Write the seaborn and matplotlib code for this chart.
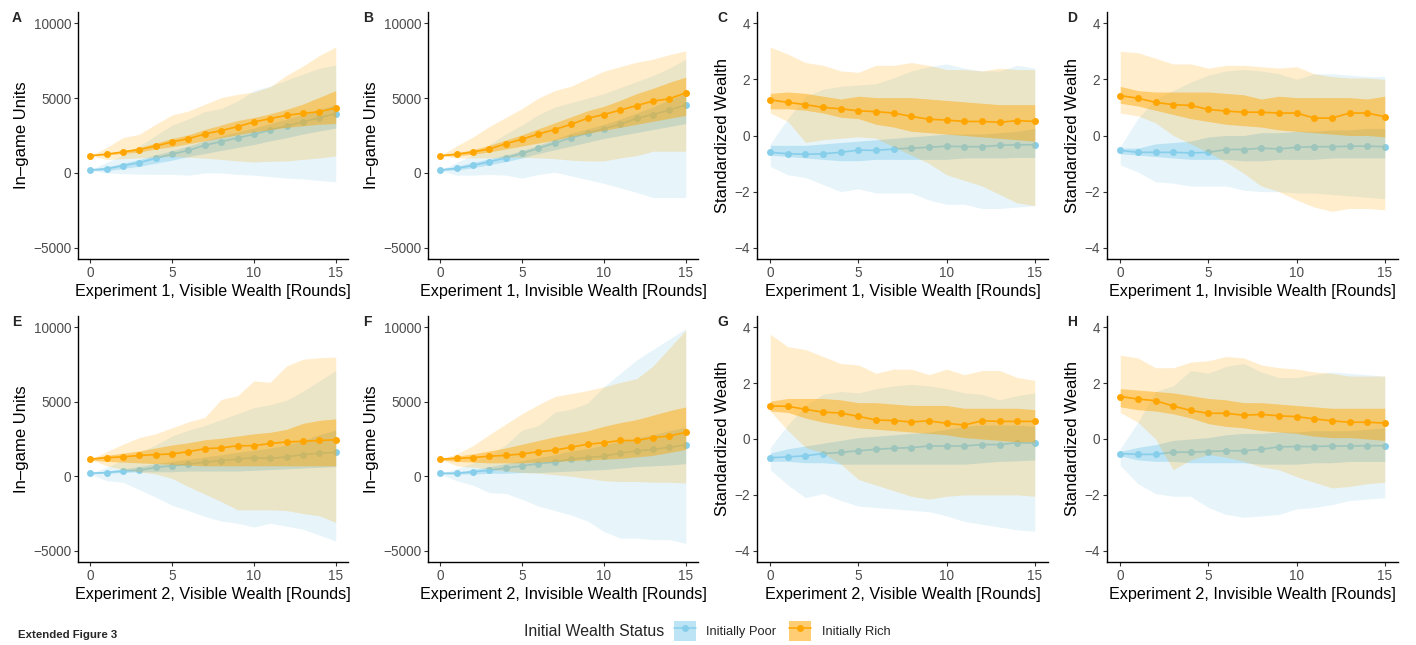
import matplotlib
matplotlib.use("Agg")
import matplotlib.pyplot as plt
import numpy as np
import pandas as pd
import seaborn as sns
from matplotlib.lines import Line2D
from matplotlib.patches import Patch

rounds = list(range(16))

# ---- Panel A: Experiment 1, visible wealth (in-game units)
a_poor_mean = [200, 270, 490, 690, 980, 1250, 1510, 1850, 2090, 2340, 2580, 2870, 3140, 3400, 3690, 3960]
a_poor_q_lo = [150, 150, 300, 450, 650, 850, 1100, 1300, 1500, 1700, 1900, 2150, 2350, 2600, 2800, 3000]
a_poor_q_hi = [250, 400, 650, 900, 1200, 1500, 1800, 2150, 2450, 2750, 3000, 3300, 3600, 3900, 4250, 4550]
a_poor_r_lo = [200, 0, -50, -80, -100, -100, -150, 0, 0, -100, -150, -250, -350, -400, -500, -600]
a_poor_r_hi = [200, 700, 1200, 1800, 2500, 3200, 3600, 4100, 4300, 4800, 5500, 5800, 6200, 6600, 7000, 7200]
a_rich_mean = [1150, 1250, 1400, 1560, 1800, 2070, 2290, 2600, 2830, 3090, 3400, 3630, 3850, 3980, 4090, 4340]
a_rich_q_lo = [1150, 1200, 1300, 1400, 1600, 1750, 1950, 2150, 2350, 2550, 2750, 2900, 3050, 3150, 3250, 3300]
a_rich_q_hi = [1150, 1300, 1500, 1700, 2000, 2300, 2550, 2900, 3200, 3500, 3700, 3950, 4250, 4600, 5050, 5500]
a_rich_r_lo = [1150, 900, 950, 1000, 1050, 1100, 1050, 980, 900, 800, 730, 780, 800, 900, 1000, 1130]
a_rich_r_hi = [1150, 1700, 2360, 2580, 3250, 3870, 4140, 4580, 5030, 5250, 5400, 5760, 6520, 7140, 7850, 8410]

# ---- Panel B: Experiment 1, invisible wealth (in-game units)
b_poor_mean = [200, 300, 500, 750, 1000, 1300, 1650, 2000, 2350, 2650, 2950, 3250, 3650, 3900, 4200, 4550]
b_poor_q_lo = [150, 200, 350, 550, 750, 1000, 1300, 1550, 1800, 2050, 2300, 2500, 2700, 2900, 3100, 3300]
b_poor_q_hi = [250, 450, 700, 950, 1200, 1500, 1850, 2250, 2650, 2950, 3250, 3600, 4000, 4400, 4900, 5300]
b_poor_r_lo = [150, -150, -150, -100, -150, -350, -100, 50, -200, -450, -700, -1000, -1300, -1650, -1650, -1650]
b_poor_r_hi = [200, 700, 1200, 1900, 2600, 3200, 3900, 4400, 4700, 5000, 5300, 5700, 6100, 6500, 7000, 7600]
b_rich_mean = [1150, 1250, 1400, 1600, 1950, 2250, 2600, 2900, 3250, 3650, 3900, 4200, 4500, 4800, 4950, 5350]
b_rich_q_lo = [1150, 1150, 1250, 1400, 1600, 1800, 2000, 2200, 2450, 2650, 2850, 3050, 3250, 3450, 3650, 3850]
b_rich_q_hi = [1150, 1350, 1550, 1850, 2200, 2550, 2950, 3350, 3750, 4150, 4450, 4850, 5300, 5650, 6050, 6400]
b_rich_r_lo = [1150, 1000, 1000, 1000, 1050, 1050, 1000, 950, 850, 800, 800, 1000, 1150, 1450, 1450, 1450]
b_rich_r_hi = [1150, 1800, 2400, 3100, 3700, 4300, 5000, 5500, 5800, 6300, 6800, 7100, 7400, 7600, 7900, 8150]

# ---- Panel C: Experiment 1, visible wealth (standardized)
c_poor_mean = [-0.60, -0.65, -0.67, -0.65, -0.60, -0.52, -0.53, -0.48, -0.45, -0.42, -0.38, -0.40, -0.40, -0.35, -0.33, -0.33]
c_poor_q_lo = [-0.70, -0.75, -0.80, -0.85, -0.90, -0.90, -0.85, -0.85, -0.85, -0.85, -0.85, -0.80, -0.80, -0.80, -0.78, -0.78]
c_poor_q_hi = [-0.35, -0.35, -0.35, -0.30, -0.25, -0.20, -0.15, -0.10, -0.05, 0.00, 0.05, 0.05, 0.05, 0.10, 0.15, 0.25]
c_poor_r_lo = [-1.10, -1.40, -1.50, -1.75, -2.00, -1.90, -2.05, -2.05, -2.05, -2.30, -2.45, -2.45, -2.60, -2.60, -2.55, -2.50]
c_poor_r_hi = [-0.30, 0.60, 1.40, 1.65, 1.75, 1.80, 1.85, 2.05, 2.30, 2.45, 2.55, 2.40, 2.30, 2.30, 2.50, 2.40]
c_rich_mean = [1.27, 1.18, 1.10, 1.00, 0.95, 0.88, 0.85, 0.80, 0.68, 0.58, 0.55, 0.50, 0.50, 0.47, 0.53, 0.50]
c_rich_q_lo = [0.95, 0.95, 0.90, 0.80, 0.65, 0.60, 0.40, 0.30, 0.15, 0.10, 0.05, 0.00, -0.05, -0.10, -0.15, -0.20]
c_rich_q_hi = [1.50, 1.55, 1.50, 1.40, 1.30, 1.40, 1.35, 1.35, 1.35, 1.30, 1.25, 1.20, 1.15, 1.10, 1.10, 1.10]
c_rich_r_lo = [0.80, 0.50, -0.25, -0.15, -0.10, -0.05, -0.10, -0.40, -0.70, -1.00, -1.40, -1.60, -1.80, -2.10, -2.40, -2.50]
c_rich_r_hi = [3.15, 2.90, 2.60, 2.50, 2.30, 2.25, 2.50, 2.50, 2.60, 2.50, 2.35, 2.35, 2.30, 2.40, 2.35, 2.35]

# ---- Panel D: Experiment 1, invisible wealth (standardized)
d_poor_mean = [-0.53, -0.60, -0.60, -0.60, -0.62, -0.60, -0.50, -0.50, -0.45, -0.48, -0.42, -0.40, -0.40, -0.38, -0.38, -0.40]
d_poor_q_lo = [-0.65, -0.70, -0.75, -0.80, -0.85, -0.85, -0.85, -0.90, -0.90, -0.85, -0.85, -0.85, -0.80, -0.80, -0.80, -0.80]
d_poor_q_hi = [-0.45, -0.45, -0.30, -0.25, -0.20, -0.05, 0.00, 0.00, 0.10, 0.10, 0.15, 0.15, 0.20, 0.20, 0.25, 0.25]
d_poor_r_lo = [-1.05, -1.30, -1.65, -1.70, -1.80, -1.80, -1.80, -1.95, -2.00, -2.00, -2.05, -2.05, -2.10, -2.15, -2.20, -2.25]
d_poor_r_hi = [-0.40, 0.60, 1.30, 1.60, 1.90, 2.15, 2.30, 2.35, 2.30, 2.20, 2.00, 2.20, 2.20, 2.15, 2.10, 2.10]
d_rich_mean = [1.42, 1.33, 1.18, 1.10, 1.07, 0.93, 0.87, 0.83, 0.83, 0.80, 0.80, 0.62, 0.62, 0.80, 0.80, 0.67]
d_rich_q_lo = [1.15, 1.05, 0.90, 0.75, 0.60, 0.50, 0.40, 0.35, 0.30, 0.20, 0.15, 0.10, 0.05, 0.00, 0.00, -0.05]
d_rich_q_hi = [1.75, 1.60, 1.55, 1.55, 1.55, 1.55, 1.50, 1.45, 1.30, 1.40, 1.35, 1.35, 1.35, 1.35, 1.30, 1.40]
d_rich_r_lo = [0.80, 0.70, 0.45, 0.00, -0.30, -0.60, -0.95, -1.35, -1.80, -2.00, -2.30, -2.55, -2.70, -2.60, -2.60, -2.65]
d_rich_r_hi = [3.00, 2.95, 2.75, 2.55, 2.55, 2.40, 2.50, 2.50, 2.45, 2.40, 2.45, 2.20, 2.10, 2.05, 2.05, 2.00]

# ---- Panel E: Experiment 2, visible wealth (in-game units)
e_poor_mean = [200, 250, 350, 400, 600, 700, 800, 950, 1050, 1150, 1250, 1200, 1300, 1450, 1550, 1600]
e_poor_q_lo = [150, 200, 250, 300, 300, 300, 350, 350, 350, 350, 400, 450, 500, 550, 600, 650]
e_poor_q_hi = [250, 350, 500, 650, 850, 1000, 1150, 1300, 1450, 1600, 1750, 1900, 2100, 2400, 2800, 3100]
e_poor_r_lo = [150, -300, -400, -900, -1400, -1950, -2300, -2700, -3000, -3150, -3400, -3150, -3350, -3550, -3950, -4350]
e_poor_r_hi = [200, 600, 1100, 1600, 2100, 2700, 3100, 3400, 3800, 4200, 4600, 4800, 5100, 5700, 6400, 7100]
e_rich_mean = [1150, 1250, 1300, 1400, 1450, 1500, 1650, 1850, 1900, 2050, 2050, 2200, 2300, 2350, 2400, 2450]
e_rich_q_lo = [1100, 1000, 950, 900, 850, 800, 750, 700, 700, 700, 700, 700, 700, 700, 700, 700]
e_rich_q_hi = [1200, 1400, 1550, 1700, 1900, 2100, 2250, 2450, 2550, 2700, 2850, 2950, 3150, 3550, 3750, 3850]
e_rich_r_lo = [1150, 700, 450, 300, 150, -150, -700, -1200, -1700, -2250, -2250, -2250, -2300, -2500, -2650, -3100]
e_rich_r_hi = [1150, 1650, 2150, 2600, 2850, 3250, 3650, 3950, 5150, 5400, 6400, 6300, 7400, 7850, 7950, 8000]

# ---- Panel F: Experiment 2, invisible wealth (in-game units)
f_poor_mean = [200, 200, 300, 400, 550, 700, 850, 950, 1150, 1250, 1350, 1550, 1700, 1800, 1950, 2100]
f_poor_q_lo = [150, 150, 150, 200, 200, 250, 250, 300, 350, 400, 450, 550, 650, 700, 750, 850]
f_poor_q_hi = [250, 300, 450, 650, 850, 1050, 1250, 1450, 1700, 1850, 2100, 2350, 2550, 2800, 3050, 3300]
f_poor_r_lo = [150, -300, -600, -1100, -1150, -1550, -2000, -2300, -2600, -3000, -3700, -4150, -4150, -4250, -4250, -4500]
f_poor_r_hi = [200, 500, 900, 1400, 2100, 3100, 3400, 4300, 4500, 4900, 6000, 6900, 7800, 8500, 9200, 9900]
f_rich_mean = [1150, 1200, 1250, 1350, 1400, 1500, 1650, 1750, 1950, 2150, 2250, 2400, 2400, 2600, 2700, 2950]
f_rich_q_lo = [1100, 1000, 950, 900, 900, 900, 950, 1000, 1050, 1100, 1150, 1200, 1300, 1400, 1600, 1800]
f_rich_q_hi = [1200, 1350, 1500, 1700, 1900, 2150, 2400, 2650, 2850, 3050, 3350, 3600, 3800, 4100, 4400, 4650]
f_rich_r_lo = [1150, 700, 600, 500, 350, 250, 200, 100, 0, -150, -300, -350, -350, -400, -400, -450]
f_rich_r_hi = [1150, 1500, 2050, 2800, 3500, 4200, 4800, 5350, 5550, 5750, 6000, 6300, 6550, 7400, 8600, 9800]

# ---- Panel G: Experiment 2, visible wealth (standardized)
g_poor_mean = [-0.67, -0.64, -0.60, -0.52, -0.48, -0.42, -0.37, -0.33, -0.31, -0.25, -0.25, -0.25, -0.20, -0.20, -0.13, -0.15]
g_poor_q_lo = [-0.80, -0.80, -0.85, -0.85, -0.90, -0.90, -0.90, -0.90, -0.90, -0.90, -0.90, -0.90, -0.85, -0.80, -0.78, -0.75]
g_poor_q_hi = [-0.50, -0.35, -0.25, -0.15, -0.05, 0.05, 0.10, 0.15, 0.20, 0.25, 0.35, 0.45, 0.50, 0.50, 0.50, 0.45]
g_poor_r_lo = [-1.10, -1.65, -2.10, -1.95, -2.20, -2.40, -2.45, -2.50, -2.55, -2.60, -2.75, -2.95, -3.05, -3.15, -3.25, -3.30]
g_poor_r_hi = [-0.30, 0.50, 1.20, 1.60, 1.70, 1.65, 1.80, 1.90, 1.95, 1.90, 1.80, 1.65, 1.60, 1.40, 1.55, 1.65]
g_rich_mean = [1.18, 1.17, 1.06, 0.96, 0.93, 0.81, 0.68, 0.66, 0.61, 0.65, 0.56, 0.50, 0.65, 0.63, 0.63, 0.63]
g_rich_q_lo = [1.00, 0.95, 0.75, 0.60, 0.50, 0.40, 0.35, 0.30, 0.25, 0.20, 0.15, 0.05, 0.00, -0.05, -0.10, -0.10]
g_rich_q_hi = [1.35, 1.45, 1.45, 1.45, 1.40, 1.30, 1.30, 1.25, 1.20, 1.20, 1.20, 1.10, 1.10, 1.10, 1.10, 1.05]
g_rich_r_lo = [1.00, 0.30, -0.30, -0.50, -0.90, -1.45, -1.65, -1.85, -2.05, -2.15, -2.05, -2.00, -2.00, -2.00, -2.00, -2.05]
g_rich_r_hi = [3.75, 3.30, 3.20, 2.95, 2.70, 2.65, 2.35, 2.50, 2.50, 2.30, 2.50, 2.30, 2.45, 2.45, 2.20, 2.10]

# ---- Panel H: Experiment 2, invisible wealth (standardized)
h_poor_mean = [-0.52, -0.55, -0.55, -0.47, -0.47, -0.45, -0.42, -0.42, -0.37, -0.28, -0.27, -0.27, -0.25, -0.25, -0.24, -0.24]
h_poor_q_lo = [-0.60, -0.75, -0.80, -0.80, -0.85, -0.85, -0.85, -0.85, -0.90, -0.90, -0.90, -0.85, -0.85, -0.80, -0.80, -0.80]
h_poor_q_hi = [-0.45, -0.30, -0.20, -0.05, 0.00, 0.05, 0.15, 0.20, 0.20, 0.25, 0.25, 0.30, 0.30, 0.30, 0.35, 0.40]
h_poor_r_lo = [-0.95, -1.60, -1.95, -2.05, -2.05, -2.45, -2.70, -2.80, -2.75, -2.70, -2.50, -2.45, -2.35, -2.20, -2.15, -2.10]
h_poor_r_hi = [-0.35, 0.60, 1.70, 1.90, 2.45, 2.35, 2.60, 2.70, 2.40, 2.20, 2.20, 2.30, 2.40, 2.35, 2.30, 2.25]
h_rich_mean = [1.52, 1.43, 1.37, 1.18, 1.02, 0.92, 0.92, 0.85, 0.88, 0.83, 0.80, 0.72, 0.65, 0.60, 0.60, 0.57]
h_rich_q_lo = [1.15, 1.05, 1.00, 0.90, 0.75, 0.55, 0.45, 0.40, 0.30, 0.25, 0.20, 0.10, 0.05, 0.05, 0.00, -0.05]
h_rich_q_hi = [1.80, 1.75, 1.70, 1.65, 1.55, 1.45, 1.40, 1.30, 1.30, 1.25, 1.20, 1.15, 1.10, 1.10, 1.10, 1.10]
h_rich_r_lo = [0.95, 0.60, 0.00, -1.10, -0.75, -0.55, -0.65, -0.80, -1.00, -1.10, -1.35, -1.55, -1.75, -1.70, -1.60, -1.55]
h_rich_r_hi = [3.00, 2.90, 2.55, 2.55, 2.75, 2.80, 2.95, 2.90, 2.65, 2.55, 2.50, 2.40, 2.35, 2.25, 2.25, 2.25]

POOR_COLOR = "#87CEEB"
RICH_COLOR = "#FFA500"
GROUPS = ["Initially Poor", "Initially Rich"]

panels = [
    ("A", "Experiment 1, Visible Wealth [Rounds]", "units",
     (a_poor_mean, a_poor_q_lo, a_poor_q_hi, a_poor_r_lo, a_poor_r_hi),
     (a_rich_mean, a_rich_q_lo, a_rich_q_hi, a_rich_r_lo, a_rich_r_hi)),
    ("B", "Experiment 1, Invisible Wealth [Rounds]", "units",
     (b_poor_mean, b_poor_q_lo, b_poor_q_hi, b_poor_r_lo, b_poor_r_hi),
     (b_rich_mean, b_rich_q_lo, b_rich_q_hi, b_rich_r_lo, b_rich_r_hi)),
    ("C", "Experiment 1, Visible Wealth [Rounds]", "std",
     (c_poor_mean, c_poor_q_lo, c_poor_q_hi, c_poor_r_lo, c_poor_r_hi),
     (c_rich_mean, c_rich_q_lo, c_rich_q_hi, c_rich_r_lo, c_rich_r_hi)),
    ("D", "Experiment 1, Invisible Wealth [Rounds]", "std",
     (d_poor_mean, d_poor_q_lo, d_poor_q_hi, d_poor_r_lo, d_poor_r_hi),
     (d_rich_mean, d_rich_q_lo, d_rich_q_hi, d_rich_r_lo, d_rich_r_hi)),
    ("E", "Experiment 2, Visible Wealth [Rounds]", "units",
     (e_poor_mean, e_poor_q_lo, e_poor_q_hi, e_poor_r_lo, e_poor_r_hi),
     (e_rich_mean, e_rich_q_lo, e_rich_q_hi, e_rich_r_lo, e_rich_r_hi)),
    ("F", "Experiment 2, Invisible Wealth [Rounds]", "units",
     (f_poor_mean, f_poor_q_lo, f_poor_q_hi, f_poor_r_lo, f_poor_r_hi),
     (f_rich_mean, f_rich_q_lo, f_rich_q_hi, f_rich_r_lo, f_rich_r_hi)),
    ("G", "Experiment 2, Visible Wealth [Rounds]", "std",
     (g_poor_mean, g_poor_q_lo, g_poor_q_hi, g_poor_r_lo, g_poor_r_hi),
     (g_rich_mean, g_rich_q_lo, g_rich_q_hi, g_rich_r_lo, g_rich_r_hi)),
    ("H", "Experiment 2, Invisible Wealth [Rounds]", "std",
     (h_poor_mean, h_poor_q_lo, h_poor_q_hi, h_poor_r_lo, h_poor_r_hi),
     (h_rich_mean, h_rich_q_lo, h_rich_q_hi, h_rich_r_lo, h_rich_r_hi)),
]

sns.set_theme(style="ticks")
plt.rcParams["font.family"] = ["Liberation Sans", "DejaVu Sans"]

W, H = 1416, 645
fig = plt.figure(figsize=(W / 100, H / 100), dpi=100)

# panel boxes in pixels: (left, right) per column, (top, bottom) per row
col_px = [(78, 348), (428, 698), (757, 1048), (1107, 1398)]
row_px = [(12, 259), (316, 562)]
label_x = [12, 363, 717, 1067]


def draw_group(ax, stats, color, z):
    # each group is drawn as a whole, so the later group covers the earlier one
    mean, q_lo, q_hi, r_lo, r_hi = stats
    ax.fill_between(rounds, r_lo, r_hi, color=color, alpha=0.2, linewidth=0, zorder=z)
    ax.fill_between(rounds, q_lo, q_hi, color=color, alpha=0.45, linewidth=0, zorder=z + 1)
    df = pd.DataFrame({"Round": rounds, "Value": mean})
    sns.lineplot(data=df, x="Round", y="Value", color=color, marker="o",
                 markersize=5, markeredgewidth=0, linewidth=1.2, ax=ax,
                 legend=False, zorder=z + 2)


for i, (letter, xlabel, kind, poor, rich) in enumerate(panels):
    r, c = divmod(i, 4)
    x0, x1 = col_px[c]
    top, bot = row_px[r]
    ax = fig.add_axes([x0 / W, 1 - bot / H, (x1 - x0) / W, (bot - top) / H])
    draw_group(ax, poor, POOR_COLOR, 1)
    draw_group(ax, rich, RICH_COLOR, 4)

    ax.set_xlim(-0.75, 15.75)
    ax.set_xticks([0, 5, 10, 15])
    if kind == "units":
        ax.set_ylim(-5750, 10750)
        ax.set_yticks([-5000, 0, 5000, 10000])
        ax.set_ylabel("In\u2013game Units", fontsize=12, color="black", labelpad=3)
    else:
        ax.set_ylim(-4.4, 4.4)
        ax.set_yticks([-4, -2, 0, 2, 4])
        ax.set_ylabel("Standardized Wealth", fontsize=12, color="black", labelpad=3)
    ax.set_xlabel(xlabel, fontsize=11.6, color="black", labelpad=3)
    ax.tick_params(axis="both", labelsize=9.8, labelcolor="#4D4D4D", color="#333333",
                   length=3, width=0.8, pad=2)
    for side in ["top", "right"]:
        ax.spines[side].set_visible(False)
    for side in ["left", "bottom"]:
        ax.spines[side].set_color("black")
        ax.spines[side].set_linewidth(1.0)
    ax.set_facecolor("white")

    fig.text(label_x[c] / W, 1 - (top - 1) / H, letter, fontsize=10, fontweight="bold",
             ha="left", va="top")

# legend row
fig.text(664 / W, 1 - 631 / H, "Initial Wealth Status", fontsize=11.4, ha="right", va="center")
handles = []
for color in [POOR_COLOR, RICH_COLOR]:
    handles.append((Patch(facecolor=color, alpha=0.55, linewidth=0),
                    Line2D([], [], color=color, marker="o", markersize=4, linewidth=1.1)))
fig.legend(handles, GROUPS, loc="center left", bbox_to_anchor=(674 / W, 1 - 631 / H),
           ncol=2, frameon=False, fontsize=9.3, handlelength=1.7, handleheight=1.9,
           handletextpad=0.8, columnspacing=1.0, borderaxespad=0, borderpad=0)

fig.text(18 / W, 1 - 635 / H, "Extended Figure 3", fontsize=8.2, fontweight="bold",
         ha="left", va="center")

fig.savefig("out.png", dpi=100, facecolor="white")
